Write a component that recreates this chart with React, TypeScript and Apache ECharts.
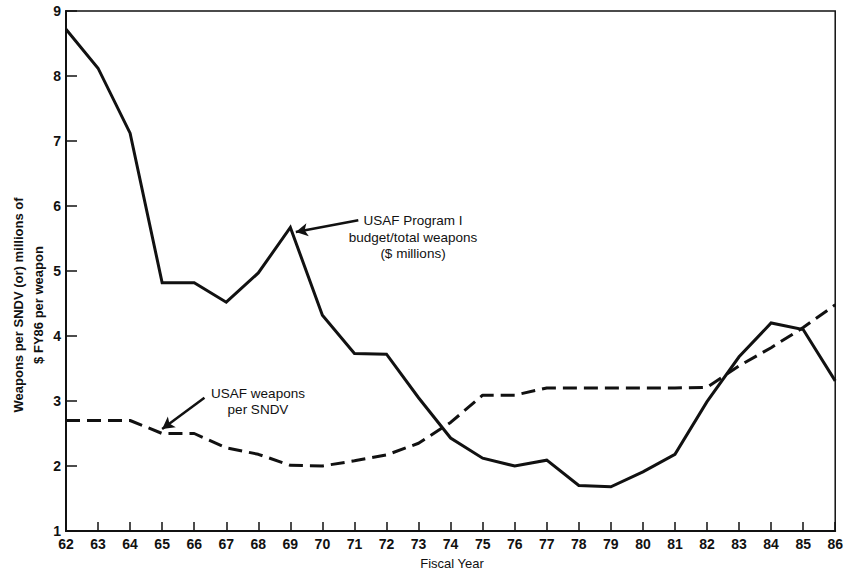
import React, { useEffect, useRef } from "react";
import * as echarts from "echarts";

const years = [62, 63, 64, 65, 66, 67, 68, 69, 70, 71, 72, 73, 74, 75, 76, 77, 78, 79, 80, 81, 82, 83, 84, 85, 86];
const programIBudgetPerWeapon = [8.72, 8.12, 7.12, 4.82, 4.82, 4.52, 4.97, 5.67, 4.32, 3.73, 3.72, 3.05, 2.43, 2.12, 2.0, 2.09, 1.7, 1.68, 1.91, 2.18, 2.99, 3.68, 4.2, 4.1, 3.31];
const weaponsPerSNDV = [2.7, 2.7, 2.7, 2.5, 2.5, 2.28, 2.18, 2.01, 2.0, 2.08, 2.17, 2.35, 2.67, 3.09, 3.09, 3.2, 3.2, 3.2, 3.2, 3.2, 3.21, 3.54, 3.82, 4.13, 4.48];

const programIArrow = { from: [71.12, 5.78], to: [69.17, 5.6] };
const sndvArrow = { from: [66.32, 3.05], to: [65.0, 2.57] };

const yTitle = "Weapons per SNDV (or) millions of\n$ FY86 per weapon";
const xTitle = "Fiscal Year";
const programILabel = "USAF Program I\nbudget/total weapons\n($ millions)";
const sndvLabel = "USAF weapons\nper SNDV";

const INK = "#111111";
const FONT = "'Liberation Sans', Arial, Helvetica, sans-serif";

export default function App() {
  const ref = useRef<HTMLDivElement>(null);

  useEffect(() => {
    if (!ref.current) return;
    const chart = echarts.init(ref.current, null, { renderer: "svg" });

    const solidData = years.map((y, i) => [y, programIBudgetPerWeapon[i]]);
    const dashData = years.map((y, i) => [y, weaponsPerSNDV[i]]);

    chart.setOption({
      animation: false,
      backgroundColor: "#ffffff",
      textStyle: { fontFamily: FONT },
      grid: {
        left: 66,
        right: 6,
        top: 11,
        bottom: 40,
        show: true,
        borderColor: INK,
        borderWidth: 1.5,
        backgroundColor: "transparent",
      },
      xAxis: {
        type: "value",
        min: 62,
        max: 86,
        interval: 1,
        axisLine: { show: true, lineStyle: { color: INK, width: 2 } },
        axisTick: { show: true, inside: true, length: 9, lineStyle: { color: INK, width: 1.5 } },
        axisLabel: {
          color: INK,
          fontSize: 14,
          fontWeight: "bold",
          fontFamily: FONT,
          margin: 6,
          formatter: (v: number) => String(v),
        },
        splitLine: { show: false },
      },
      yAxis: {
        type: "value",
        min: 1,
        max: 9,
        interval: 1,
        axisLine: { show: true, lineStyle: { color: INK, width: 2 } },
        axisTick: { show: true, inside: true, length: 11, lineStyle: { color: INK, width: 1.5 } },
        axisLabel: {
          color: INK,
          fontSize: 14,
          fontWeight: "bold",
          fontFamily: FONT,
          margin: 5,
        },
        splitLine: { show: false },
      },
      series: [
        {
          name: "USAF Program I budget/total weapons ($ millions)",
          type: "line",
          data: solidData,
          symbol: "none",
          lineStyle: { color: INK, width: 3, type: "solid", join: "miter" },
          z: 3,
        },
        {
          name: "USAF weapons per SNDV",
          type: "line",
          data: dashData,
          symbol: "none",
          lineStyle: { color: INK, width: 3, type: [14, 7] },
          z: 3,
          markLine: {
            silent: true,
            symbol: ["none", "arrow"],
            symbolSize: [10, 12],
            label: { show: false },
            lineStyle: { color: INK, width: 2.5, type: "solid" },
            data: [
              [{ coord: programIArrow.from }, { coord: programIArrow.to }],
              [{ coord: sndvArrow.from }, { coord: sndvArrow.to }],
            ],
          },
        },
      ],
      graphic: [
        {
          type: "text",
          x: 28,
          y: 305,
          rotation: Math.PI / 2,
          style: {
            text: yTitle,
            fill: INK,
            font: `bold 13px ${FONT}`,
            align: "center",
            verticalAlign: "middle",
            lineHeight: 20,
          },
        },
        {
          type: "text",
          x: 452,
          y: 563,
          style: {
            text: xTitle,
            fill: INK,
            font: `13px ${FONT}`,
            align: "center",
            verticalAlign: "middle",
          },
        },
        {
          type: "text",
          x: 413,
          y: 237,
          style: {
            text: programILabel,
            fill: INK,
            font: `13.5px ${FONT}`,
            align: "center",
            verticalAlign: "middle",
            lineHeight: 16.5,
          },
        },
        {
          type: "text",
          x: 258,
          y: 401,
          style: {
            text: sndvLabel,
            fill: INK,
            font: `13.5px ${FONT}`,
            align: "center",
            verticalAlign: "middle",
            lineHeight: 16,
          },
        },
      ],
    });

    return () => {
      chart.dispose();
    };
  }, []);

  return (
    <div
      ref={ref}
      style={{ position: "fixed", left: 0, top: 0, width: 846, height: 571, background: "#fff" }}
    />
  );
}
